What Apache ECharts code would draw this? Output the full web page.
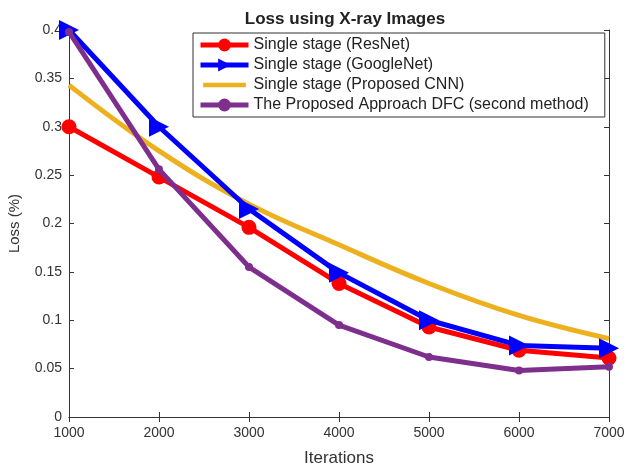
<!DOCTYPE html>
<html><head><meta charset="utf-8">
<script src="https://cdn.jsdelivr.net/npm/echarts@6/dist/echarts.min.js"></script>
<style>html,body{margin:0;padding:0;background:#fff}#c{width:628px;height:469px}</style>
</head><body><div id="c"></div>
<script>
const iterations = [1000, 2000, 3000, 4000, 5000, 6000, 7000];
const resnet = [0.300, 0.248, 0.196, 0.138, 0.093, 0.069, 0.061];
const googlenet = [0.400, 0.300, 0.215, 0.149, 0.100, 0.074, 0.071];
const proposedCnn = [0.343, 0.275, 0.220, 0.178, 0.138, 0.105, 0.081];
const dfc = [0.398, 0.256, 0.155, 0.095, 0.062, 0.048, 0.052];
const names = ['Single stage (ResNet)', 'Single stage (GoogleNet)', 'Single stage (Proposed CNN)', 'The Proposed Approach DFC (second method)'];
const pair = arr => arr.map((v, i) => [iterations[i], v]);
const font = 'Liberation Sans, Arial, sans-serif';
const chart = echarts.init(document.getElementById('c'), null, {renderer: 'canvas'});
const axisCommon = {
  axisLine: {show: true, lineStyle: {color: '#333', width: 1}},
  axisTick: {show: true, inside: true, length: 5, lineStyle: {color: '#333'}},
  splitLine: {show: false}
};
const barIcon = 'path://M0,0h0.05v0.05h-0.05z M0,6.5h48v5h-48z M47.95,17.95h0.05v0.05h-0.05z';
chart.setOption({
  animation: false,
  title: {text: 'Loss using X-ray Images', left: 340, top: 6, textAlign: 'center',
    textStyle: {fontFamily: font, fontSize: 17, fontWeight: 'bold', color: '#222'}},
  grid: {left: 69, right: 19, top: 30, bottom: 52, containLabel: false, outerBoundsMode: 'none'},
  legend: {
    orient: 'vertical', left: 193, top: 33,
    backgroundColor: '#fff', borderColor: '#333', borderWidth: 1,
    padding: [4, 16, 4, 5], itemGap: 4, itemWidth: 48, itemHeight: 16,
    lineStyle: {width: 5},
    textStyle: {fontFamily: font, fontSize: 16, color: '#222', padding: [0, 0, 0, 0]},
    data: [names[0], names[1], {name: names[2], icon: barIcon}, names[3]]
  },
  xAxis: [
    Object.assign({type: 'value', min: 1000, max: 7000, interval: 1000,
      name: 'Iterations', nameLocation: 'middle', nameGap: 33,
      nameTextStyle: {fontFamily: font, fontSize: 17, color: '#333'},
      axisLabel: {fontFamily: font, fontSize: 14, color: '#333', margin: 9, formatter: v => String(v)}}, axisCommon),
    Object.assign({type: 'value', position: 'top', min: 1000, max: 7000, interval: 1000,
      axisLabel: {show: false}}, axisCommon)
  ],
  yAxis: [
    Object.assign({type: 'value', min: 0, max: 0.4, interval: 0.05,
      name: 'Loss (%)', nameLocation: 'middle', nameGap: 47,
      nameTextStyle: {fontFamily: font, fontSize: 15, color: '#333'},
      axisLabel: {fontFamily: font, fontSize: 14, color: '#333', margin: 7,
        formatter: v => String(Math.round(v * 100) / 100)}}, axisCommon),
    Object.assign({type: 'value', position: 'right', min: 0, max: 0.4, interval: 0.05,
      axisLabel: {show: false}}, axisCommon)
  ],
  series: [
    {name: names[0], type: 'line', data: pair(resnet), symbol: 'circle', symbolSize: 15,
      lineStyle: {width: 5, color: '#ff0000'}, itemStyle: {color: '#ff0000'}, z: 3},
    {name: names[1], type: 'line', data: pair(googlenet), symbol: 'triangle', symbolSize: 20, symbolRotate: -90,
      lineStyle: {width: 5, color: '#0000ff'}, itemStyle: {color: '#0000ff'}, z: 4},
    {name: names[2], type: 'line', data: pair(proposedCnn), symbol: 'none', smooth: 0.4,
      lineStyle: {width: 5, color: '#edb120'}, itemStyle: {color: '#edb120'}, z: 2},
    {name: names[3], type: 'line', data: pair(dfc), symbol: 'circle', symbolSize: 8,
      lineStyle: {width: 5, color: '#7e2f8e'}, itemStyle: {color: '#7e2f8e'}, z: 5}
  ]
});
</script></body></html>
